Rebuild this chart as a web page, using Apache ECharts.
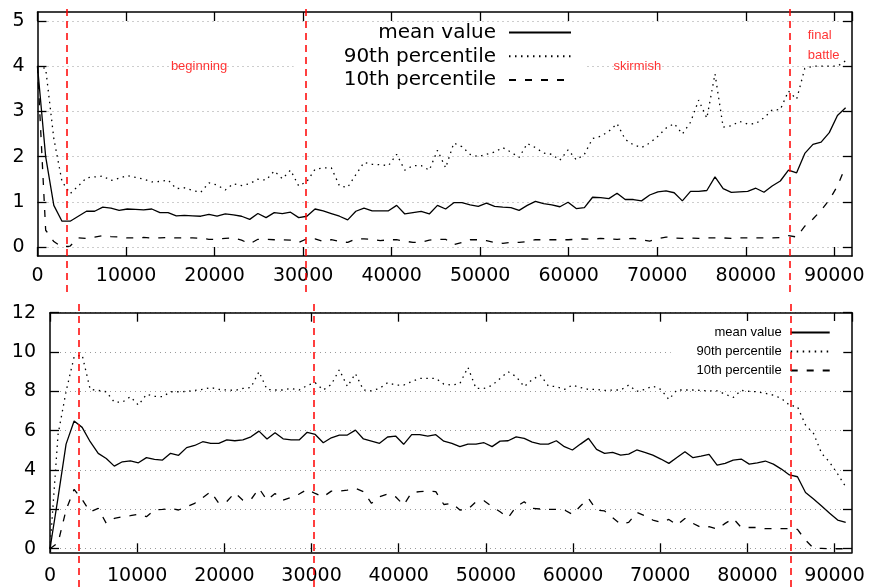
<!DOCTYPE html>
<html>
<head>
<meta charset="utf-8">
<script src="https://cdn.jsdelivr.net/npm/echarts@6/dist/echarts.min.js"></script>
<style>html,body{margin:0;padding:0;background:#fff}#c{width:871px;height:587px}</style>
</head>
<body>
<div id="c"></div>
<script>
// ---- data ----
const xs = [0, 922, 1844, 2766, 3688, 4610, 5532, 6454, 7376, 8298, 9220, 10142, 11064, 11986, 12908, 13830, 14752, 15674, 16596, 17518, 18440, 19362, 20284, 21206, 22128, 23050, 23972, 24894, 25816, 26738, 27660, 28582, 29504, 30426, 31348, 32270, 33192, 34114, 35036, 35958, 36880, 37802, 38724, 39646, 40568, 41490, 42412, 43334, 44256, 45178, 46100, 47022, 47944, 48866, 49788, 50710, 51632, 52554, 53476, 54398, 55320, 56242, 57164, 58086, 59008, 59930, 60852, 61774, 62696, 63618, 64540, 65462, 66384, 67306, 68228, 69150, 70072, 70994, 71916, 72838, 73760, 74682, 75604, 76526, 77448, 78370, 79292, 80214, 81136, 82058, 82980, 83902, 84824, 85746, 86668, 87590, 88512, 89434, 90356, 91278];

const topMean = [4.0, 2.0, 0.92, 0.57, 0.57, 0.68, 0.79, 0.79, 0.88, 0.86,
  0.81, 0.84, 0.83, 0.82, 0.84, 0.76, 0.76, 0.69, 0.70, 0.69,
  0.68, 0.72, 0.68, 0.73, 0.71, 0.68, 0.61, 0.74, 0.65, 0.76,
  0.74, 0.77, 0.65, 0.68, 0.84, 0.80, 0.74, 0.68, 0.60, 0.79,
  0.86, 0.80, 0.80, 0.80, 0.92, 0.73, 0.76, 0.79, 0.73, 0.92,
  0.84, 0.98, 0.98, 0.93, 0.90, 0.97, 0.90, 0.88, 0.87, 0.81,
  0.92, 1.01, 0.96, 0.93, 0.89, 0.99, 0.85, 0.87, 1.10, 1.09,
  1.07, 1.19, 1.05, 1.05, 1.02, 1.15, 1.22, 1.24, 1.20, 1.02,
  1.23, 1.23, 1.25, 1.55, 1.29, 1.21, 1.22, 1.23, 1.30, 1.21,
  1.35, 1.46, 1.70, 1.64, 2.07, 2.27, 2.32, 2.53, 2.91, 3.08];

const top90 = [4.0, 3.95, 2.4, 1.45, 1.18, 1.35, 1.53, 1.55, 1.57, 1.47,
  1.52, 1.58, 1.54, 1.50, 1.44, 1.45, 1.48, 1.29, 1.31, 1.25,
  1.21, 1.42, 1.37, 1.26, 1.40, 1.36, 1.40, 1.50, 1.48, 1.68,
  1.51, 1.70, 1.35, 1.45, 1.72, 1.75, 1.75, 1.35, 1.32, 1.60,
  1.87, 1.83, 1.82, 1.80, 2.05, 1.70, 1.80, 1.80, 1.70, 2.14,
  1.75, 2.30, 2.22, 2.05, 2.00, 2.05, 2.10, 2.20, 2.10, 1.98,
  2.29, 2.20, 2.08, 2.05, 1.92, 2.15, 1.93, 2.05, 2.40, 2.45,
  2.56, 2.73, 2.38, 2.26, 2.20, 2.30, 2.45, 2.63, 2.73, 2.50,
  2.76, 3.25, 2.85, 3.83, 2.65, 2.68, 2.78, 2.72, 2.73, 2.86,
  3.03, 3.04, 3.45, 3.27, 3.95, 4.0, 4.0, 4.0, 4.0, 4.12];

const top10 = [4.0, 0.37, 0.12, 0.0, 0.02, 0.20, 0.19, 0.22, 0.25, 0.23,
  0.22, 0.20, 0.20, 0.21, 0.20, 0.20, 0.21, 0.20, 0.20, 0.20,
  0.19, 0.17, 0.17, 0.19, 0.20, 0.15, 0.07, 0.17, 0.17, 0.16,
  0.16, 0.15, 0.10, 0.18, 0.18, 0.12, 0.16, 0.12, 0.10, 0.18,
  0.18, 0.17, 0.14, 0.16, 0.16, 0.13, 0.10, 0.10, 0.15, 0.17,
  0.17, 0.05, 0.10, 0.16, 0.16, 0.14, 0.10, 0.08, 0.10, 0.10,
  0.12, 0.16, 0.16, 0.16, 0.16, 0.16, 0.17, 0.18, 0.17, 0.19,
  0.18, 0.17, 0.18, 0.19, 0.16, 0.13, 0.18, 0.22, 0.20, 0.19,
  0.20, 0.19, 0.20, 0.20, 0.20, 0.19, 0.20, 0.20, 0.20, 0.20,
  0.20, 0.21, 0.25, 0.22, 0.46, 0.62, 0.81, 1.04, 1.35, 1.78];

const botMean = [0, 2.6, 5.32, 6.49, 6.17, 5.44, 4.85, 4.59, 4.20, 4.42,
  4.47, 4.37, 4.63, 4.54, 4.51, 4.85, 4.75, 5.14, 5.25, 5.44,
  5.36, 5.36, 5.53, 5.49, 5.53, 5.69, 5.98, 5.58, 5.90, 5.59,
  5.53, 5.53, 5.92, 5.81, 5.39, 5.64, 5.78, 5.78, 6.03, 5.58,
  5.47, 5.36, 5.68, 5.73, 5.31, 5.80, 5.80, 5.73, 5.80, 5.47,
  5.36, 5.19, 5.32, 5.32, 5.39, 5.19, 5.47, 5.49, 5.69, 5.61,
  5.42, 5.32, 5.32, 5.49, 5.19, 5.02, 5.32, 5.61, 5.05, 4.85,
  4.90, 4.76, 4.81, 5.02, 4.90, 4.76, 4.56, 4.34, 4.64, 4.93,
  4.63, 4.71, 4.80, 4.25, 4.34, 4.51, 4.56, 4.30, 4.37, 4.46,
  4.30, 4.05, 3.75, 3.66, 2.86, 2.53, 2.17, 1.80, 1.46, 1.34];

const bot90 = [0, 5.8, 8.0, 9.75, 9.85, 8.1, 8.05, 7.98, 7.45, 7.45,
  7.73, 7.30, 7.85, 7.75, 7.73, 7.98, 7.98, 8.0, 8.05, 8.1,
  8.2, 8.1, 8.07, 8.05, 8.15, 8.2, 9.0, 8.1, 8.07, 8.07,
  8.15, 8.07, 8.3, 8.44, 8.07, 8.35, 9.1, 8.25, 8.9, 8.07,
  8.03, 8.15, 8.44, 8.32, 8.32, 8.5, 8.66, 8.66, 8.66, 8.37,
  8.32, 8.4, 9.22, 8.15, 8.15, 8.3, 8.66, 9.0, 8.75, 8.24,
  8.6, 8.83, 8.28, 8.24, 8.1, 8.32, 8.2, 8.1, 8.1, 8.05,
  8.07, 8.07, 8.32, 8.0, 8.1, 8.27, 8.1, 7.59, 8.07, 8.07,
  8.07, 8.05, 8.03, 8.03, 7.86, 7.69, 8.05, 8.0, 7.98, 7.9,
  7.81, 7.64, 7.3, 7.22, 6.29, 5.86, 4.85, 4.4, 3.8, 3.15];

const bot10 = [0, 0.3, 1.97, 3.02, 2.5, 1.88, 2.05, 1.29, 1.54, 1.63,
  1.68, 1.76, 1.63, 1.97, 2.0, 2.05, 1.97, 2.14, 2.31, 2.6,
  2.9, 2.31, 2.4, 2.85, 2.47, 2.5, 3.07, 2.47, 2.81, 2.47,
  2.61, 2.78, 3.02, 2.81, 2.64, 2.93, 2.93, 2.98, 3.07, 2.9,
  2.31, 2.64, 2.78, 2.64, 2.22, 2.86, 2.9, 2.93, 2.9, 2.25,
  2.31, 1.97, 2.0, 2.39, 2.44, 2.14, 1.88, 1.58, 2.14, 2.39,
  2.05, 2.02, 2.0, 2.0, 1.97, 1.75, 2.17, 2.56, 1.97, 1.92,
  1.58, 1.25, 1.34, 1.85, 1.68, 1.46, 1.34, 1.49, 1.2, 1.54,
  1.29, 1.08, 1.12, 1.0, 1.29, 1.54, 1.08, 1.08, 1.08, 1.02,
  1.02, 1.02, 1.02, 0.98, 0.44, 0.02, 0.02, 0.0, 0.0, 0.0];

const seriesNames = ['mean value', '90th percentile', '10th percentile'];
const phaseX = [3300, 30300, 85000];
const annoText = ['beginning', 'skirmish', 'final\nbattle'];
const annoX = [18250, 67750, 87000];
const annoY = [4, 4, 4.47];
const xTicks = [0, 10000, 20000, 30000, 40000, 50000, 60000, 70000, 80000, 90000];

// ---- styles ----
const FONT = 'DejaVu Sans';
const black = '#000';
const frameLine = { show: true, onZero: false, lineStyle: { color: black, width: 1.5 } };
const dashTypes = ['solid', [1.5, 4.5], [7, 9]];
const pairs = ys => xs.map((x, i) => [x, ys[i]]);
const xFmt = v => (xTicks.indexOf(v) >= 0 ? String(v) : '');

function frameX(grid, pos, labels, margin) {
  return {
    type: 'value', gridIndex: grid, position: pos, min: 0, max: 92000, interval: 10000,
    axisLine: frameLine,
    axisTick: { show: true, inside: true, length: 9, lineStyle: { color: black, width: 1.3 } },
    axisLabel: { show: labels, color: black, fontFamily: FONT, fontSize: 19, margin: margin, formatter: xFmt, showMaxLabel: false },
    splitLine: { show: false }
  };
}
function hiddenX(grid) { return { type: 'value', gridIndex: grid, min: 0, max: 92000, show: false }; }
function frameY(grid, pos, min, max) {
  return {
    type: 'value', gridIndex: grid, position: pos, min: min, max: max,
    axisLine: frameLine, axisTick: { show: false }, axisLabel: { show: false }, splitLine: { show: false }
  };
}
function tickY(grid, pos, max, interval, labels, margin) {
  return {
    type: 'value', gridIndex: grid, position: pos, min: 0, max: max, interval: interval,
    axisLine: { show: false, onZero: false },
    axisTick: { show: true, inside: true, length: 9, lineStyle: { color: black, width: 1.3 } },
    axisLabel: { show: labels, color: black, fontFamily: FONT, fontSize: 19, margin: margin },
    splitLine: { show: labels, lineStyle: { color: '#9a9a9a', width: 1, type: [1, 4] } }
  };
}

const topK = 244 / 5.4;
const botK = 19.67;

const option = {
  animation: false,
  backgroundColor: '#fff',
  grid: [
    { left: 37.5, right: 19, top: 12, height: 244 },
    { left: 37.5, right: 19, top: 12 + 0.2 * topK, height: 5 * topK },
    { left: 50, right: 19, top: 312.7, height: 239.6 },
    { left: 50, right: 19, top: 312.7, height: 12 * botK },
    { left: 37.5, right: 19, top: 4, height: 288 },
    { left: 50, right: 19, top: 302, height: 285 }
  ],
  xAxis: [
    frameX(0, 'bottom', true, 11),
    frameX(0, 'top', false, 8),
    hiddenX(1),
    frameX(2, 'bottom', true, 14),
    frameX(2, 'top', false, 8),
    hiddenX(3),
    hiddenX(4),
    hiddenX(5)
  ],
  yAxis: [
    frameY(0, 'left', -0.2, 5.2),
    frameY(0, 'right', -0.2, 5.2),
    tickY(1, 'left', 5, 1, true, 13),
    tickY(1, 'right', 5, 1, false, 8),
    frameY(2, 'left', -0.18, 12),
    frameY(2, 'right', -0.18, 12),
    tickY(3, 'left', 12, 2, true, 14),
    tickY(3, 'right', 12, 2, false, 8),
    { type: 'value', gridIndex: 4, min: 0, max: 1, show: false },
    { type: 'value', gridIndex: 5, min: 0, max: 1, show: false }
  ],
  legend: [
    {
      data: seriesNames, orient: 'vertical', align: 'right', selectedMode: false,
      right: 285, top: 22.5, itemWidth: 62, itemHeight: 20, itemGap: 3.8,
      backgroundColor: '#fff', padding: [0, 14, 4, 50],
      itemStyle: { opacity: 0 },
      textStyle: { fontFamily: FONT, fontSize: 20, color: black, padding: [0, 8, 0, 0] }
    },
    {
      data: seriesNames, orient: 'vertical', align: 'right', selectedMode: false,
      right: 27.7, top: 321, itemWidth: 39, itemHeight: 13, itemGap: 6,
      backgroundColor: '#fff', padding: [5, 12.6, 5, 25.7],
      itemStyle: { opacity: 0 },
      textStyle: { fontFamily: 'Liberation Sans', fontSize: 13, color: black, padding: [0, 4, 0, 0] }
    }
  ],
  series: []
};

const topSets = [topMean, top90, top10];
const botSets = [botMean, bot90, bot10];
seriesNames.forEach((name, k) => {
  option.series.push({
    type: 'line', name: name, xAxisIndex: 2, yAxisIndex: 2, data: pairs(topSets[k]),
    symbol: 'none', clip: false, z: 3,
    lineStyle: { color: black, width: 1.3, type: dashTypes[k] }, itemStyle: { color: black }
  });
});
seriesNames.forEach((name, k) => {
  option.series.push({
    type: 'line', name: name, xAxisIndex: 5, yAxisIndex: 6, data: pairs(botSets[k]),
    symbol: 'none', clip: false, z: 3,
    lineStyle: { color: black, width: 1.3, type: dashTypes[k] }, itemStyle: { color: black }
  });
});
option.series.push({
  type: 'scatter', xAxisIndex: 2, yAxisIndex: 2, symbolSize: 0, silent: true, z: 6,
  data: annoX.map((x, i) => ({
    value: [x, annoY[i]], name: annoText[i],
    label: i === 2 ? { align: 'left' } : {}
  })),
  label: {
    show: true, position: 'inside', formatter: p => p.name, color: '#ff0000',
    fontFamily: 'Liberation Sans', fontSize: 13, lineHeight: 20
  }
});
[[6, 8], [7, 9]].forEach(([xi, yi]) => {
  option.series.push({
    type: 'line', xAxisIndex: xi, yAxisIndex: yi, data: [], silent: true, z: 10,
    markLine: {
      silent: true, symbol: ['none', 'none'], label: { show: false }, animation: false,
      lineStyle: { color: '#ff0000', width: 1.5, type: [7, 5] },
      data: phaseX.map(v => ({ xAxis: v }))
    }
  });
});

const chart = echarts.init(document.getElementById('c'), null, { renderer: 'canvas' });
chart.setOption(option);
</script>
</body>
</html>
